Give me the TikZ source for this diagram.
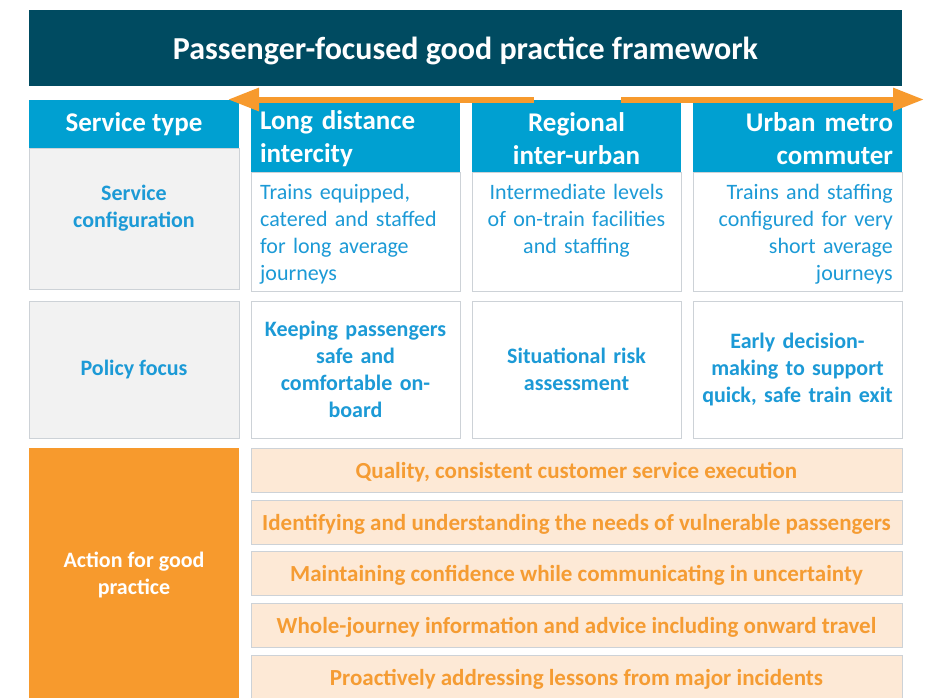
\documentclass[tikz,border=0pt]{standalone}
\usepackage{fontspec}
\setmainfont{Carlito}
\usetikzlibrary{arrows.meta}

\definecolor{titleteal}{HTML}{004B61}
\definecolor{headblue}{HTML}{00A0D1}
\definecolor{textblue}{HTML}{1C9AD6}
\definecolor{cellgray}{HTML}{F2F2F2}
\definecolor{linegray}{HTML}{CDD2D7}
\definecolor{actorange}{HTML}{F79A2D}
\definecolor{rowpeach}{HTML}{FDE9D6}
\definecolor{rowtext}{HTML}{F59C33}

\tikzset{
    box/.style={rectangle, anchor=north west, inner sep=0pt, outer sep=0pt},
    headcell/.style={box, fill=headblue, text=white, minimum height=72pt,
        text width=191pt, inner xsep=9pt, font=\bfseries\fontsize{27}{33}\selectfont,
        execute at begin node={\rule{0pt}{25pt}}},
    graycell/.style={box, fill=cellgray, draw=linegray, line width=1pt, minimum width=210pt},
    whitecell/.style={box, fill=white, draw=linegray, line width=1pt, minimum width=209pt},
    rowcell/.style={box, fill=rowpeach, draw=linegray, line width=1pt, minimum width=651pt,
        minimum height=44pt, text height=22pt, text depth=5pt,
        text=rowtext, font=\bfseries\fontsize{23}{28}\selectfont},
    cfgtext/.style={text=textblue, font=\fontsize{22}{27}\selectfont, inner sep=0pt, text width=191pt},
    boldtext/.style={text=textblue, font=\bfseries\fontsize{22}{27}\selectfont, align=center},
    wayarrow/.style={draw=actorange, line width=6pt, -{Triangle[length=31pt,width=22pt]}}
}

\begin{document}
\begin{tikzpicture}[x=1pt, y=-1pt]
    \useasboundingbox (0,0) rectangle (925,697);
    \clip (0,0) rectangle (925,697);

    % title
    \node[box, fill=titleteal, text=white, minimum width=873pt, minimum height=76pt,
        text height=30pt, text depth=7pt,
        font=\bfseries\fontsize{32}{38}\selectfont] (title) at (29,10)
        {Passenger-focused good practice framework};

    % header row
    \node[box, fill=headblue, text=white, minimum width=210pt, minimum height=48pt,
        font=\bfseries\fontsize{27}{33}\selectfont] (stype) at (29,100) {Service type};
    \node[headcell, align=left] (long) at (251,100) {Long distance\\intercity};
    \node[headcell, align=center] (regional) at (472,100) {Regional\\inter-urban};
    \node[headcell, align=right] (urban) at (693,100) {Urban metro\\commuter};

    % service configuration row
    \node[graycell, minimum height=141pt] (cfg) at (29,148) {};
    \node[boldtext, inner sep=0pt] (cfglabel) at (134,208) {Service\\configuration};
    \begin{scope}[every node/.style={whitecell, minimum height=119pt}]
        \node (cfg1) at (251,172) {};
        \node (cfg2) at (472,172) {};
        \node (cfg3) at (693,172) {};
    \end{scope}
    \node[cfgtext, anchor=north west, align=left] (cfg1txt) at ([xshift=9pt, yshift=-12pt]cfg1.north west)
        {Trains equipped,\\catered and staffed\\for long average\\journeys};
    \node[cfgtext, anchor=north, align=center] (cfg2txt) at ([yshift=-12pt]cfg2.north)
        {Intermediate levels\\of on-train facilities\\and staffing};
    \node[cfgtext, anchor=north east, align=right] (cfg3txt) at ([xshift=-9pt, yshift=-12pt]cfg3.north east)
        {Trains and staffing\\configured for very\\short average\\journeys};

    % policy focus row
    \node[graycell, minimum height=137pt, boldtext] (policy) at (29,301) {Policy focus};
    \begin{scope}[every node/.style={whitecell, minimum height=137pt, boldtext,
            text width=197pt, inner xsep=6pt}]
        \node (pol1) at (251,301) {Keeping passengers\\safe and\\comfortable on-\\board};
        \node (pol2) at (472,301) {Situational risk\\assessment};
        \node (pol3) at (693,301) {Early decision-\\making to support\\quick, safe train exit};
    \end{scope}

    % action rows
    \node[box, fill=actorange, text=white, minimum width=210pt, minimum height=254pt,
        align=center, font=\bfseries\fontsize{22}{27}\selectfont] (action) at (29,448)
        {Action for good\\practice};
    \begin{scope}[every node/.style={rowcell}]
        \node (act1) at (251,448) {Quality, consistent customer service execution};
        \node (act2) at (251,500) {Identifying and understanding the needs of vulnerable passengers};
        \node (act3) at (251,551) {Maintaining confidence while communicating in uncertainty};
        \node (act4) at (251,603) {Whole-journey information and advice including onward travel};
        \node (act5) at (251,655) {Proactively addressing lessons from major incidents};
    \end{scope}

    % direction arrows
    \coordinate (weststart) at (534,99.5);
    \coordinate (westend) at (228,99.5);
    \coordinate (eaststart) at (621,99.5);
    \coordinate (eastend) at (924,99.5);
    \draw[wayarrow] (weststart) -- (westend);
    \draw[wayarrow] (eaststart) -- (eastend);
\end{tikzpicture}
\end{document}
